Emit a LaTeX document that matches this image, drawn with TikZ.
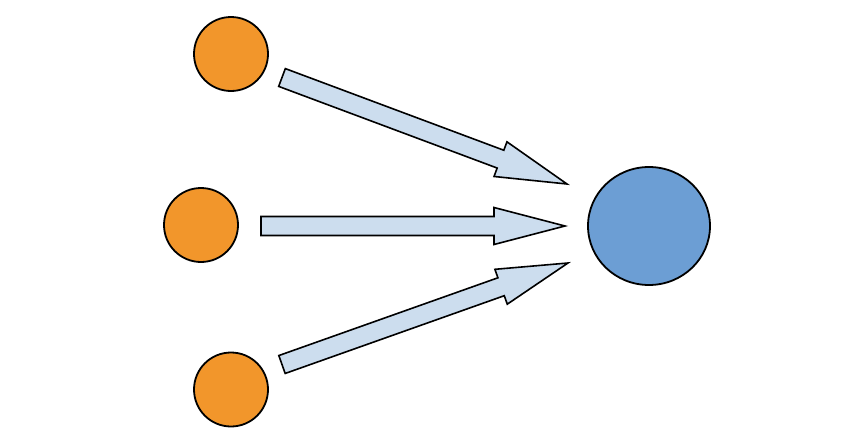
\documentclass[tikz,border=0pt]{standalone}
\usetikzlibrary{calc,shapes.geometric}
\definecolor{orangefill}{RGB}{242,150,43}
\definecolor{bluefill}{RGB}{108,158,212}
\definecolor{arrowfill}{RGB}{204,221,238}
\tikzset{
  srcnode/.style={circle,draw=black,line width=1.8pt,fill=orangefill,minimum size=74pt,inner sep=0pt},
  dstnode/.style={ellipse,draw=black,line width=1.8pt,fill=bluefill,minimum width=122pt,minimum height=118pt,inner sep=0pt},
  blockarrowstyle/.style={draw=black,line width=1.6pt,fill=arrowfill,line join=miter}
}
\newcommand{\myblockarrow}[2]{%
  \path ($(#2)!71pt!(#1)$) coordinate (#1neck);
  \draw[blockarrowstyle]
    ($(#1)!9.5pt!90:(#2)$) --
    ($(#1neck)!9.5pt!90:(#2)$) --
    ($(#1neck)!18.5pt!90:(#2)$) --
    (#2) --
    ($(#1neck)!18.5pt!-90:(#2)$) --
    ($(#1neck)!9.5pt!-90:(#2)$) --
    ($(#1)!9.5pt!-90:(#2)$) -- cycle;
}
\begin{document}
\begin{tikzpicture}[x=1pt,y=-1pt]
\useasboundingbox (0,0) rectangle (860,442);
\node[srcnode] (s1) at (231,54) {};
\node[srcnode] (s2) at (201,225) {};
\node[srcnode] (s3) at (231,389.5) {};
\node[dstnode] (t) at (649,226) {};
\coordinate (a1) at (282,77.5);
\coordinate (b1) at (567,184);
\coordinate (a2) at (261,226);
\coordinate (b2) at (565,226);
\coordinate (a3) at (282,364.5);
\coordinate (b3) at (568,263);
\myblockarrow{a1}{b1}
\myblockarrow{a2}{b2}
\myblockarrow{a3}{b3}
\end{tikzpicture}
\end{document}
